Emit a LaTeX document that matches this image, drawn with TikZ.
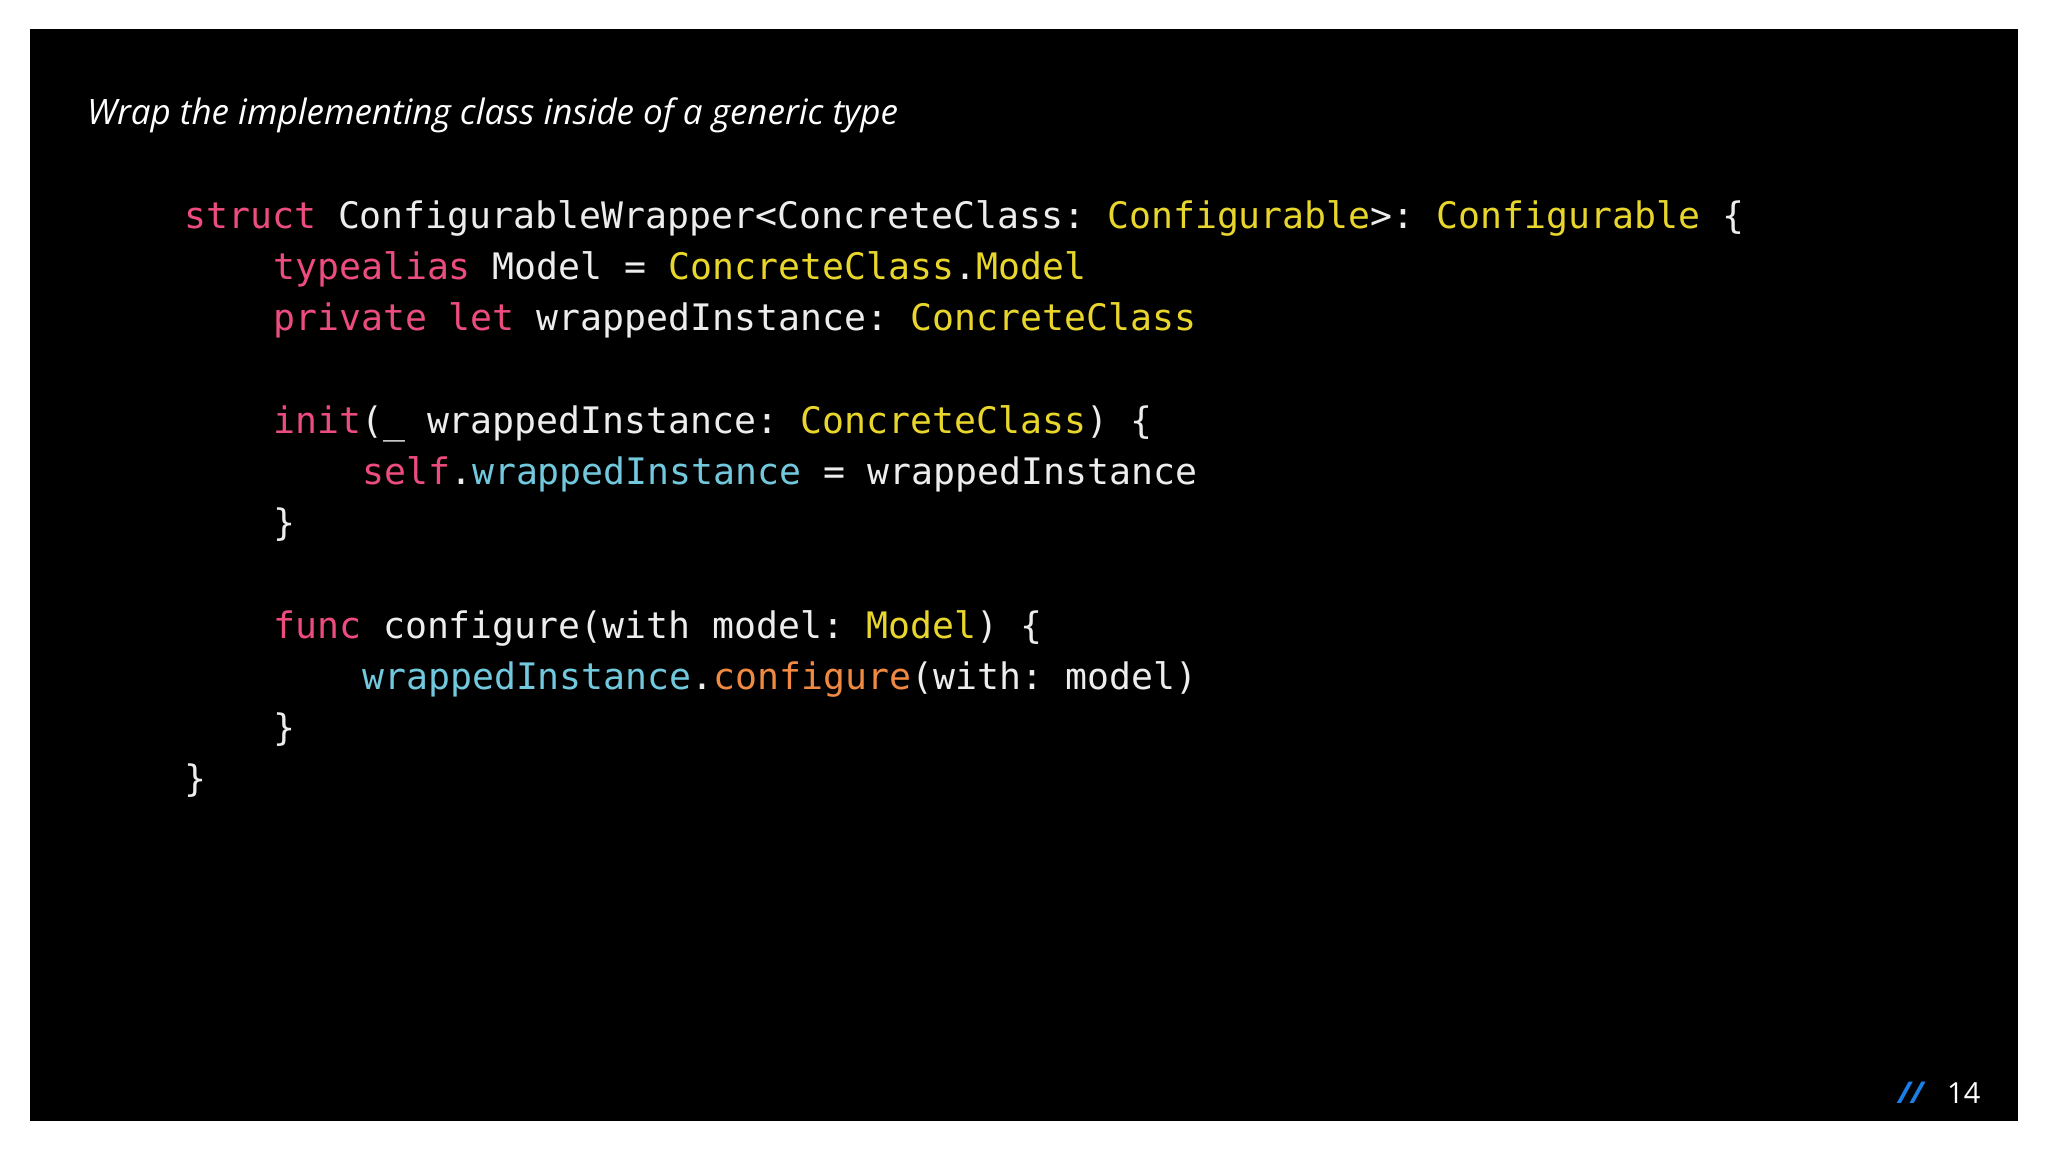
\documentclass[tikz,border=0pt]{standalone}
\usepackage{fontspec}
\setmainfont{Open Sans}
\setmonofont{DejaVu Sans Mono}
\definecolor{kw}{HTML}{EC4C7E}
\definecolor{ty}{HTML}{E8D62C}
\definecolor{cy}{HTML}{72C9DE}
\definecolor{or}{HTML}{F08A42}
\definecolor{tx}{HTML}{EDEDED}
\definecolor{bl}{HTML}{1A7FE6}
\begin{document}
\begin{tikzpicture}[x=1pt,y=-1pt,
  code/.style={anchor=base west,inner sep=0pt,text=tx,font=\fontsize{36.5}{40}\ttfamily}]
\useasboundingbox (0,0) rectangle (2048,1152);
\fill[white] (0,0) rectangle (2048,1152);
\fill[black] (30,29) rectangle (2018,1121);
\node[anchor=base west,inner sep=0pt,text=white,font=\fontsize{35}{40}\selectfont\itshape] (title) at (87,124) {Wrap the implementing class inside of a generic type};
\def\ind{89}
\node[code] (l1) at (184,228) {\textcolor{kw}{struct} ConfigurableWrapper<ConcreteClass: \textcolor{ty}{Configurable}>: \textcolor{ty}{Configurable} \{};
\node[code] (l2) at (273,279) {\textcolor{kw}{typealias} Model = \textcolor{ty}{ConcreteClass}.\textcolor{ty}{Model}};
\node[code] (l3) at (273,330) {\textcolor{kw}{private let} wrappedInstance: \textcolor{ty}{ConcreteClass}};
\node[code] (l4) at (273,433) {\textcolor{kw}{init}(\_ wrappedInstance: \textcolor{ty}{ConcreteClass}) \{};
\node[code] (l5) at (362,484) {\textcolor{kw}{self}.\textcolor{cy}{wrappedInstance} = wrappedInstance};
\node[code] (l6) at (273,535) {\}};
\node[code] (l7) at (273,638) {\textcolor{kw}{func} configure(with model: \textcolor{ty}{Model}) \{};
\node[code] (l8) at (362,689) {\textcolor{cy}{wrappedInstance}.\textcolor{or}{configure}(with: model)};
\node[code] (l9) at (273,740) {\}};
\node[code] (l10) at (184,791) {\}};
\node[anchor=base west,inner sep=0pt,text=bl,font=\fontsize{30}{30}\selectfont\bfseries\itshape] (sl) at (1898,1103) {//};
\node[anchor=base west,inner sep=0pt,text=white,font=\fontsize{29}{30}\selectfont] (pg) at (1947,1103) {14};
\end{tikzpicture}
\end{document}
